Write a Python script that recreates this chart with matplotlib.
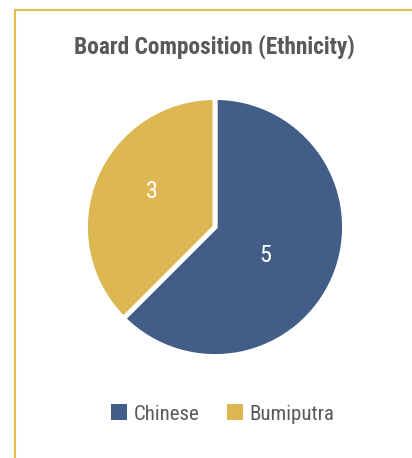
import matplotlib
matplotlib.use("Agg")
import numpy as np
import matplotlib.pyplot as plt
from matplotlib.lines import Line2D
from matplotlib.patches import Patch

# data
labels = ["Chinese", "Bumiputra"]
values = [5, 3]
colors = ["#425E88", "#DCB752"]
title = "Board Composition (Ethnicity)"

TEXT_GRAY = "#58595B"
FRAME = "#E6BF47"

plt.rcParams["font.family"] = ["Roboto Condensed", "DejaVu Sans"]

W, H = 412, 458
fig = plt.figure(figsize=(W / 100, H / 100), dpi=100)
fig.patch.set_facecolor("white")

# frame lines (top and left)
fig.add_artist(Line2D([15.5 / W, 1.0], [1 - 9.5 / H, 1 - 9.5 / H],
                      color=FRAME, linewidth=1.5, transform=fig.transFigure))
fig.add_artist(Line2D([15.5 / W, 15.5 / W], [0.0, 1 - 9.5 / H],
                      color=FRAME, linewidth=1.5, transform=fig.transFigure))

fig.text(214 / W, 1 - 54 / H, title, ha="center", va="baseline",
         fontsize=16.8, fontweight="bold", color=TEXT_GRAY)

# pie
cx, cy, r = 215, 227, 129.5
ax = fig.add_axes([(cx - r) / W, 1 - (cy + r) / H, 2 * r / W, 2 * r / H])
total = sum(values)
wedges, texts, autotexts = ax.pie(
    values, colors=colors, startangle=90, counterclock=False,
    autopct=lambda p: "{:d}".format(int(round(p * total / 100))),
    pctdistance=0.55,
    wedgeprops=dict(edgecolor="white", linewidth=3.5),
    textprops=dict(color="white", fontsize=17.5))

# value labels sit a bit clockwise of the slice middle, like the original
label_dist = [0.45, 0.56]
for w, t, d in zip(wedges, autotexts, label_dist):
    mid = np.deg2rad((w.theta1 + w.theta2) / 2 - 7)
    t.set_position((d * np.cos(mid), d * np.sin(mid)))

ax.set_xlim(-1, 1)
ax.set_ylim(-1, 1)
ax.set_aspect("equal")

# legend
handles = [Patch(facecolor=c, edgecolor="none") for c in colors]
leg = fig.legend(handles, labels, loc="center", bbox_to_anchor=(222.5 / W, 44 / H),
                 ncol=2, frameon=False, fontsize=15, handlelength=0.77,
                 handleheight=0.77, handletextpad=0.32, columnspacing=1.33,
                 borderpad=0)
for t in leg.get_texts():
    t.set_color(TEXT_GRAY)

fig.savefig("out.png", dpi=100)
